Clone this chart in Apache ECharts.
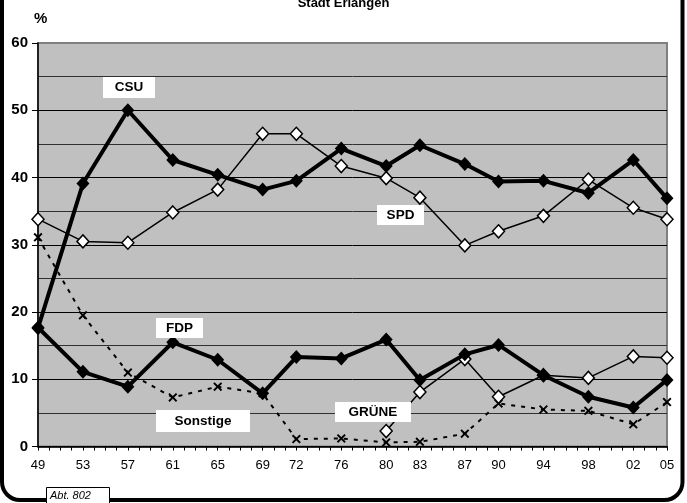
<!DOCTYPE html>
<html><head><meta charset="utf-8">
<script src="https://cdn.jsdelivr.net/npm/echarts@6/dist/echarts.min.js"></script>
<style>html,body{margin:0;padding:0;background:#fff}#c{width:687px;height:503px}</style>
</head><body><div id="c"></div>
<script>
const years = [1949,1953,1957,1961,1965,1969,1972,1976,1980,1983,1987,1990,1994,1998,2002,2005];
const csu = [17.6,39.1,50.0,42.6,40.4,38.2,39.5,44.3,41.7,44.8,42.0,39.4,39.5,37.7,42.6,36.9];
const spd = [33.8,30.5,30.3,34.8,38.2,46.5,46.5,41.7,39.9,37.0,29.9,32.0,34.3,39.7,35.5,33.8];
const fdp = [17.7,11.1,8.9,15.5,12.9,7.9,13.3,13.1,15.9,9.9,13.7,15.1,10.6,7.4,5.8,9.9];
const gruene = [null,null,null,null,null,null,null,null,2.3,8.1,13.0,7.4,10.6,10.2,13.4,13.2];
const sonstige = [31.1,19.5,11.0,7.3,8.9,7.9,1.1,1.2,0.6,0.7,1.9,6.4,5.5,5.3,3.3,6.6];
const labelYears = [1949,1953,1957,1961,1965,1969,1972,1976,1980,1983,1987,1990,1994,1998,2002,2005];

const pairs = arr => years.map((y,i)=>[y,arr[i]]).filter(p=>p[1]!==null);
const F = '"Liberation Sans", Arial, sans-serif';
const crossPath = 'path://M0,1.5 L1.5,0 L5,3.5 L8.5,0 L10,1.5 L6.5,5 L10,8.5 L8.5,10 L5,6.5 L1.5,10 L0,8.5 L3.5,5 Z';

function box(x,y,w,h,txt){
  return {type:'group', children:[
    {type:'rect', shape:{x:x,y:y,width:w,height:h}, style:{fill:'#fff'}, z:50},
    {type:'text', x:x+w/2, y:y+h/2, style:{text:txt, font:'bold 13.5px '+F, fill:'#000', align:'center', verticalAlign:'middle'}, z:51}
  ]};
}

const chart = echarts.init(document.getElementById('c'));
chart.setOption({
  animation:false,
  backgroundColor:'#fff',
  title:{text:'Stadt Erlangen', left:'center', top:-8, textStyle:{fontFamily:F, fontSize:13, fontWeight:'bold', color:'#000'}},
  grid:{left:38, right:20, top:43, bottom:56.5, show:true, backgroundColor:'#c0c0c0', borderColor:'#808080', borderWidth:2},
  xAxis:{type:'value', min:1949, max:2005, interval:1,
    axisLine:{show:true, onZero:false, lineStyle:{color:'#000', width:1.5}},
    axisTick:{show:true, length:4, lineStyle:{color:'#000'}},
    splitLine:{show:false},
    axisLabel:{fontFamily:F, fontSize:13, color:'#000', margin:12, showMinLabel:true, showMaxLabel:true,
      formatter:v=> labelYears.indexOf(v)>=0 ? String(v).slice(2) : ''}
  },
  yAxis:{type:'value', min:0, max:60, interval:10,
    axisLine:{show:true, lineStyle:{color:'#000', width:1.5}},
    axisTick:{show:true, length:6, lineStyle:{color:'#000'}},
    axisLabel:{fontFamily:F, fontSize:15, fontWeight:'bold', color:'#000', margin:10},
    splitLine:{show:true, showMaxLine:false, lineStyle:{color:'#000', width:1}},
    minorTick:{show:false, splitNumber:2},
    minorSplitLine:{show:true, lineStyle:{color:'#303030', width:1}}
  },
  series:[
    {name:'Sonstige', type:'line', data:pairs(sonstige), symbol:crossPath, symbolSize:9,
      lineStyle:{color:'#000', width:2, type:[4,6]}, itemStyle:{color:'#000'}, z:2},
    {name:'SPD', type:'line', data:pairs(spd), symbol:'diamond', symbolSize:[12,13],
      lineStyle:{color:'#000', width:1.5}, itemStyle:{color:'#fff', borderColor:'#000', borderWidth:1.5}, z:3},
    {name:'GRÜNE', type:'line', data:pairs(gruene), symbol:'diamond', symbolSize:[12,13],
      lineStyle:{color:'#000', width:1.5}, itemStyle:{color:'#fff', borderColor:'#000', borderWidth:1.5}, z:3},
    {name:'FDP', type:'line', data:pairs(fdp), symbol:'diamond', symbolSize:[13,14],
      lineStyle:{color:'#000', width:4}, itemStyle:{color:'#000'}, z:4},
    {name:'CSU', type:'line', data:pairs(csu), symbol:'diamond', symbolSize:[13,14],
      lineStyle:{color:'#000', width:4}, itemStyle:{color:'#000'}, z:4}
  ],
  graphic:[
    {type:'rect', shape:{x:2, y:-40, width:680.5, height:540, r:18}, style:{fill:null, stroke:'#000', lineWidth:4}, z:60, silent:true},
    {type:'text', left:34, top:11, style:{text:'%', font:'bold 15px '+F, fill:'#000'}},
    box(103,77,52,21,'CSU'),
    box(377,205,47,20,'SPD'),
    box(156,318,47,20,'FDP'),
    box(156,410,94,22,'Sonstige'),
    box(335,402,76,20,'GRÜNE'),
    {type:'group', children:[
      {type:'rect', shape:{x:46.5, y:487.5, width:63, height:18}, style:{fill:'#fff', stroke:'#000', lineWidth:1}, z:61},
      {type:'text', x:50, y:496, style:{text:'Abt. 802', font:'italic 11px '+F, fill:'#000', verticalAlign:'middle'}, z:62}
    ]}
  ]
});
</script></body></html>
